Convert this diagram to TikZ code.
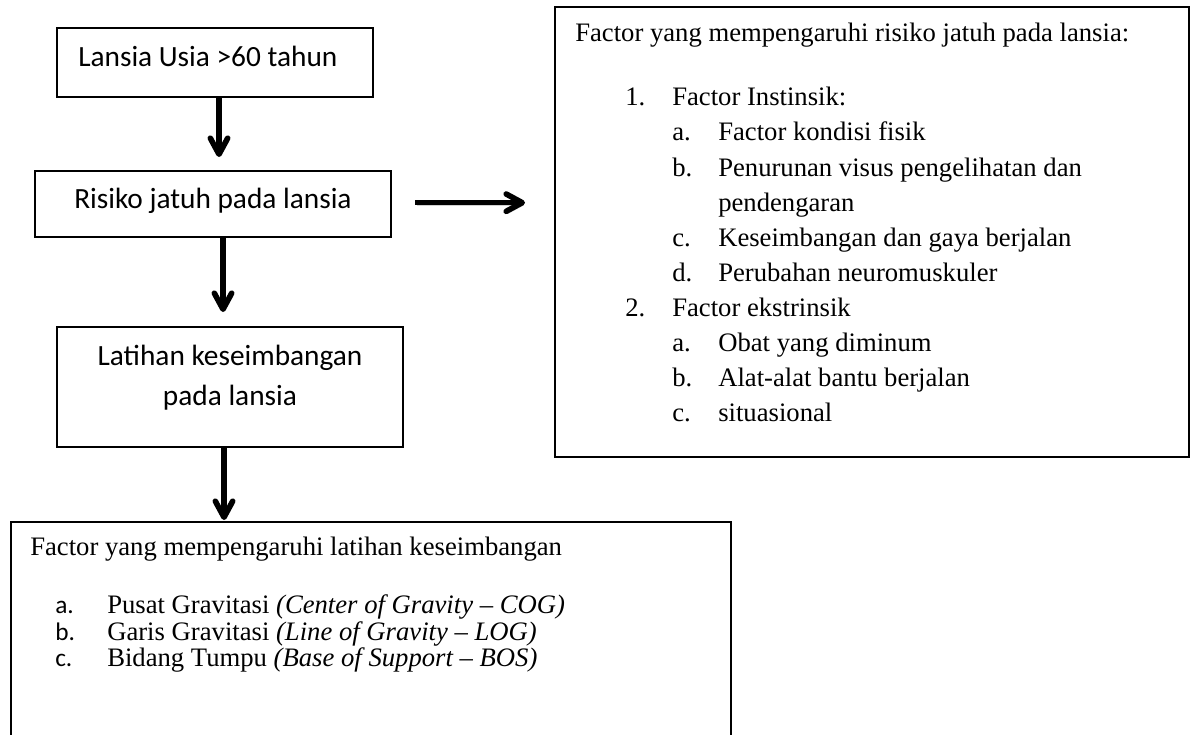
\documentclass[tikz,border=0pt]{standalone}
\usepackage{fontspec}
\setmainfont{Liberation Serif}
\newfontfamily\calibri{Carlito}
\usetikzlibrary{arrows.meta}
\begin{document}
\begin{tikzpicture}[x=0.75pt,y=-0.75pt,
  box/.style={draw=black,line width=1pt,inner sep=0pt,outer sep=0pt},
  sanslbl/.style={font=\calibri\fontsize{22}{26}\selectfont,inner sep=0pt},
  sanslet/.style={font=\calibri\fontsize{19}{22}\selectfont,inner sep=0pt,anchor=base west},
  serif/.style={font=\fontsize{20}{24}\selectfont,inner sep=0pt,anchor=base west},
  flow/.style={line width=4.2pt,-{Straight Barb[length=12pt,width=13pt,round]},
    preaction={draw=black!40,opacity=0.45,transform canvas={shift={(1.2pt,-1.8pt)}}}}]
\clip (0,0) rectangle (1196,735);
\fill[white] (0,0) rectangle (1196,735);
% boxes
\node[box,minimum width=237pt,minimum height=51.75pt] (b1) at (215,62.5) {};
\node[box,minimum width=267pt,minimum height=49.5pt] (b2) at (213,204) {};
\node[box,minimum width=259.5pt,minimum height=90pt] (b3) at (230,387) {};
\node[box,minimum width=475.5pt,minimum height=337.5pt] (rb) at (872,232) {};
\node[box,minimum width=540pt,minimum height=178.5pt] (bb) at (371,641) {};
% left texts
\node[sanslbl,anchor=base west] (t1) at (78,67) {Lansia Usia >60 tahun};
\node[sanslbl,anchor=base west] (t2) at (74,208) {Risiko jatuh pada lansia};
\node[sanslbl,anchor=base] (t3a) at (230,365) {Latihan keseimbangan};
\node[sanslbl,anchor=base] (t3b) at (230,405) {pada lansia};
% right box text
\node[serif] (r0) at (575,42) {Factor yang mempengaruhi risiko jatuh pada lansia:};
\node[serif] (r1n) at (625,106) {1.};
\node[serif] (r1) at (672,106) {Factor Instinsik:};
\node[serif] (r1an) at (672,141) {a.};
\node[serif] (r1a) at (718,141) {Factor kondisi fisik};
\node[serif] (r1bn) at (672,176) {b.};
\node[serif] (r1b) at (718,176) {Penurunan visus pengelihatan dan};
\node[serif] (r1b2) at (718,211) {pendengaran};
\node[serif] (r1cn) at (672,246) {c.};
\node[serif] (r1c) at (718,246) {Keseimbangan dan gaya berjalan};
\node[serif] (r1dn) at (672,281) {d.};
\node[serif] (r1d) at (718,281) {Perubahan neuromuskuler};
\node[serif] (r2n) at (625,316) {2.};
\node[serif] (r2) at (672,316) {Factor ekstrinsik};
\node[serif] (r2an) at (672,351) {a.};
\node[serif] (r2a) at (718,351) {Obat yang diminum};
\node[serif] (r2bn) at (672,386) {b.};
\node[serif] (r2b) at (718,386) {Alat-alat bantu berjalan};
\node[serif] (r2cn) at (672,421) {c.};
\node[serif] (r2c) at (718,421) {situasional};
% bottom box text
\node[serif] (q0) at (30,555) {Factor yang mempengaruhi latihan keseimbangan};
\node[sanslet] (qan) at (55,613) {a.};
\node[serif] (qa) at (107,613) {Pusat Gravitasi \textit{(Center of Gravity – COG)}};
\node[sanslet] (qbn) at (55,640) {b.};
\node[serif] (qb) at (107,640) {Garis Gravitasi \textit{(Line of Gravity – LOG)}};
\node[sanslet] (qcn) at (55,666) {c.};
\node[serif] (qc) at (107,666) {Bidang Tumpu \textit{(Base of Support – BOS)}};
% arrows
\draw[flow,shorten >=10.5pt] ([xshift=3pt]b1.south) -- ([xshift=3pt]b1.south |- b2.north);
\draw[flow,shorten >=11.25pt] ([xshift=7.5pt]b2.south) -- ([xshift=7.5pt]b2.south |- b3.north);
\draw[flow,shorten >=1.5pt] ([xshift=-4.5pt]b3.south) -- ([xshift=-4.5pt]b3.south |- bb.north);
\draw[flow,shorten <=18pt,shorten >=22.5pt] ([yshift=1pt]b2.east) -- ([yshift=1pt]b2.east -| rb.west);
\end{tikzpicture}
\end{document}
